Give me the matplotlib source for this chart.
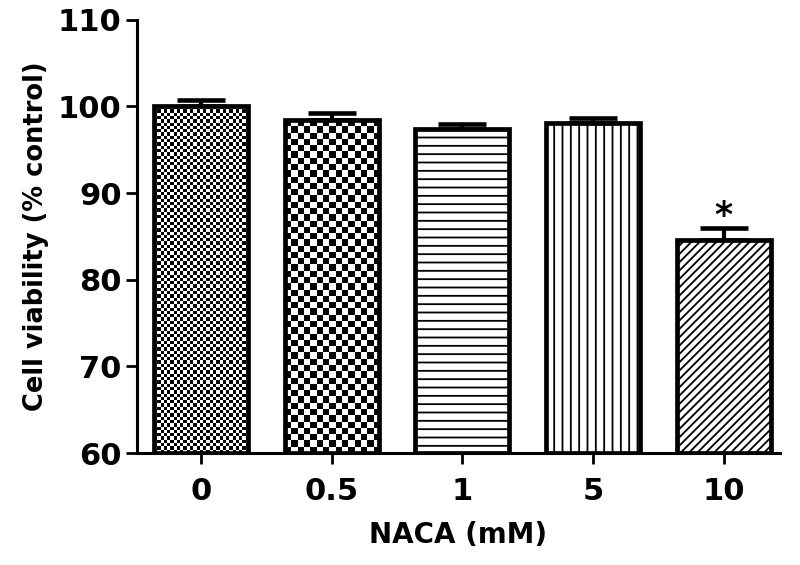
import numpy as np
import matplotlib
matplotlib.use('Agg')
import matplotlib.pyplot as plt

plt.rcParams['font.family'] = ['DejaVu Sans']
plt.rcParams['font.weight'] = 'bold'
plt.rcParams['hatch.linewidth'] = 1.3

# data
doses = ['0', '0.5', '1', '5', '10']
viability = [100.0, 98.4, 97.4, 98.1, 84.6]
sem = [0.7, 0.8, 0.6, 0.6, 1.4]
signif = ['', '', '', '', '*']
hatches = [None, None, '--', '||', '////']
checker_px = [3.3, 6.3, None, None, None]

fig = plt.figure(figsize=(8, 5.65), dpi=100)
ax = fig.add_axes([0.171, 0.198, 0.804, 0.767])

x = np.arange(len(doses))
width = 0.72
ymin = 60

ax.errorbar(x, viability, yerr=[[0] * len(sem), sem], fmt='none', ecolor='black',
            elinewidth=3, capsize=17.5, capthick=3.3, zorder=2)
bars = ax.bar(x, np.array(viability) - ymin, bottom=ymin, width=width,
              color='white', edgecolor='black', linewidth=0, zorder=3)
for b, h in zip(bars, hatches):
    if h:
        b.set_hatch(h)

ax.set_xlim(-0.49, 4.43)
ax.set_ylim(ymin, 110)

# checkerboard fills, cell size given in pixels
fig.canvas.draw()
for b, c in zip(bars, checker_px):
    if c is None:
        continue
    x0, y0 = b.get_x(), b.get_y()
    x1, y1 = x0 + b.get_width(), y0 + b.get_height()
    p0 = ax.transData.transform((x0, y0))
    p1 = ax.transData.transform((x1, y1))
    nc = max(1, int(round((p1[0] - p0[0]) / c)))
    nr = max(1, int(round((p1[1] - p0[1]) / c)))
    board = (np.add.outer(np.arange(nr), np.arange(nc)) % 2).astype(float)
    im = ax.imshow(board, cmap='gray', extent=(x0, x1, y0, y1), aspect='auto',
                   interpolation='nearest', zorder=3.5)
    im.set_clip_path(b)

# edges on top
ax.bar(x, np.array(viability) - ymin, bottom=ymin, width=width,
       color='none', edgecolor='black', linewidth=3.4, zorder=4)

for xi, v, e, s in zip(x, viability, sem, signif):
    if s:
        ax.text(xi, v + e - 0.6, s, ha='center', va='bottom', fontsize=25,
                fontweight='bold')

ax.set_yticks(np.arange(60, 111, 10))
ax.set_xticks(x)
ax.set_xticklabels(doses)
ax.tick_params(axis='both', labelsize=22, width=2, length=8, direction='out')
ax.tick_params(axis='y', pad=3)
ax.tick_params(axis='x', pad=9)
ax.spines['top'].set_visible(False)
ax.spines['right'].set_visible(False)
ax.spines['left'].set_linewidth(2.2)
ax.spines['bottom'].set_linewidth(2.2)

ax.set_ylabel('Cell viability (% control)', fontsize=18.5, fontweight='bold', labelpad=6)
ax.set_xlabel('NACA (mM)', fontsize=20, fontweight='bold', labelpad=11)

fig.savefig('out.png', dpi=100)
